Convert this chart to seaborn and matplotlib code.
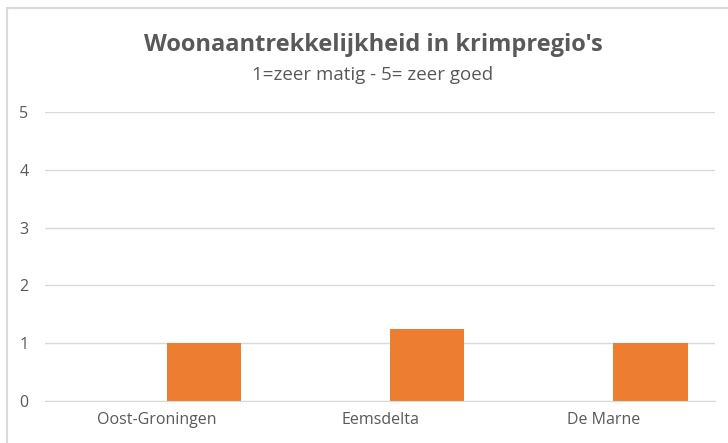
import pandas as pd
import matplotlib.pyplot as plt
import matplotlib.patches as patches
import seaborn as sns

# data
regio = ['Oost-Groningen', 'Eemsdelta', 'De Marne']
reeks1 = [0, 0, 0]
reeks2 = [1.0, 1.25, 1.0]

df = pd.DataFrame({
    'regio': regio * 2,
    'reeks': ['Reeks1'] * 3 + ['Reeks2'] * 3,
    'score': reeks1 + reeks2,
})

sns.set_style("white")
plt.rcParams['font.family'] = ['Open Sans', 'DejaVu Sans']

fig = plt.figure(figsize=(7.28, 4.43), dpi=100)
ax = fig.add_axes([45 / 728, 42 / 443, 670 / 728, 289 / 443])

sns.barplot(data=df, x='regio', y='score', hue='reeks', order=regio,
            palette=['#4472C4', '#ED7D31'], width=0.843, gap=0.21,
            saturation=1, linewidth=0, legend=False, ax=ax)

ax.set_ylim(0, 5)
ax.set_xlim(-0.5, 2.5)
ax.set_yticks(range(0, 6))
ax.yaxis.grid(True, color='#D9D9D9', linewidth=1)
ax.set_axisbelow(True)
ax.set_xlabel('')
ax.set_ylabel('')
for s in ax.spines.values():
    s.set_visible(False)
ax.spines['bottom'].set_visible(True)
ax.spines['bottom'].set_color('#D9D9D9')
ax.tick_params(axis='both', length=0, labelsize=11.5, labelcolor='#595959')
ax.tick_params(axis='y', pad=12)
ax.tick_params(axis='x', pad=8)

fig.text(373 / 728, 1 - 45 / 443, "Woonaantrekkelijkheid in krimpregio's",
         ha='center', va='center', fontsize=17, fontweight='bold', color='#595959')
fig.text(373 / 728, 1 - 75 / 443, '1=zeer matig - 5= zeer goed',
         ha='center', va='center', fontsize=13.5, color='#595959')

# chart border (only left and top visible in crop)
fig.patches.append(patches.Rectangle((7 / 728, -0.1), 1.2, 1 - 8 / 443 + 0.1,
                                     transform=fig.transFigure, fill=False,
                                     edgecolor='#D9D9D9', linewidth=1.5))

plt.savefig('out.png', dpi=100)
